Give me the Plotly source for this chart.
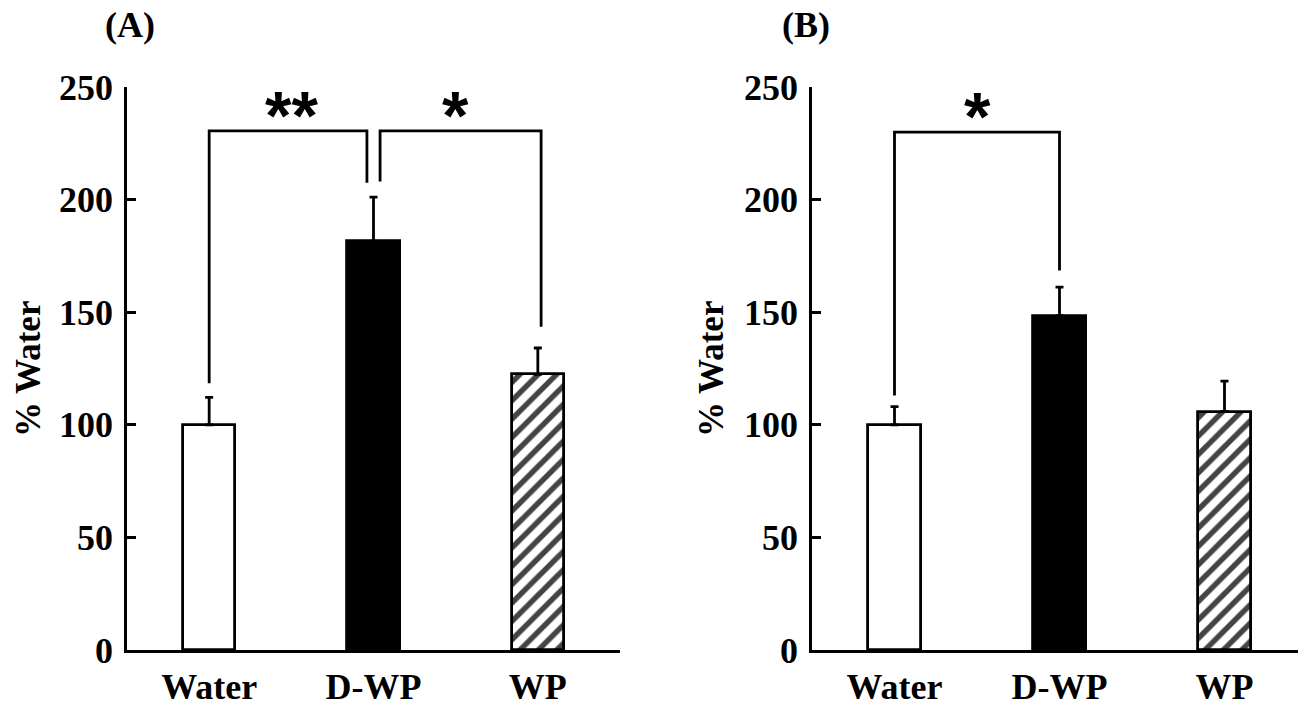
import plotly.graph_objects as go

# ---------------- data ----------------
categories = ["Water", "D-WP", "WP"]
y_ticks = [0, 50, 100, 150, 200, 250]

a_means = [100.0, 181.5, 122.4]
a_errors = [12.2, 19.6, 11.7]

b_means = [100.0, 148.5, 105.9]
b_errors = [8.1, 12.6, 13.5]

# significance brackets: (left index, right index, top value, left leg bottom, right leg bottom, label)
a_brackets = [(0, 1, 230.5, 118.5, 207.5, "**"),
              (1, 2, 230.5, 208.0, 143.5, "*")]
b_brackets = [(0, 1, 230.0, 113.0, 168.5, "*")]

panel_labels = ["(A)", "(B)"]
y_title = "% Water"

# ---------------- style / layout helpers ----------------
FONT = "Liberation Serif"
bar_colors = ["white", "black", "white"]
bar_patterns = ["", "", "/"]
LW = 2.8

OFF = 8            # browser default body margin
W, H = 1306 - OFF, 702 - OFF


def px(sx):
    return (sx - OFF) / W


def py(sy):
    return 1 - (sy - OFF) / H


fig = go.Figure()

panels = [
    dict(means=a_means, errs=a_errors, brackets=a_brackets, xa="x", ya="y",
         xdom=[px(127), px(620)], xrange=[-0.5, 2.5], label=panel_labels[0],
         lab_x=px(130), title_x=px(28)),
    dict(means=b_means, errs=b_errors, brackets=b_brackets, xa="x2", ya="y2",
         xdom=[px(812), 1.0], xrange=[-0.5, -0.5 + (OFF + W - 812) / 165.0],
         label=panel_labels[1], lab_x=px(806), title_x=px(711)),
]

ydom = [py(650), py(87)]
xpos = list(range(len(categories)))

for p in panels:
    fig.add_trace(go.Bar(
        x=xpos, y=p["means"], width=0.32,
        marker=dict(color=bar_colors, line=dict(color="black", width=LW),
                    pattern=dict(shape=bar_patterns, fgcolor="black", fgopacity=1,
                                 size=13, solidity=0.42)),
        error_y=dict(type="data", array=p["errs"], arrayminus=[0] * len(p["errs"]),
                     symmetric=False, color="black", thickness=LW, width=4),
        xaxis=p["xa"], yaxis=p["ya"], showlegend=False, hoverinfo="skip",
    ))
    for (i, j, top, lb, rb, lab) in p["brackets"]:
        xl = i + (0.04 if i == 1 else 0.0)
        xr = j - (0.04 if j == 1 and i == 0 and len(p["brackets"]) > 1 else 0.0)
        if j == 2:
            xr = j + 0.02
        fig.add_trace(go.Scatter(
            x=[xl, xl, xr, xr], y=[lb, top, top, rb], mode="lines",
            line=dict(color="black", width=LW), xaxis=p["xa"], yaxis=p["ya"],
            showlegend=False, hoverinfo="skip",
        ))
        fig.add_annotation(x=(i + j) / 2, y=top - 10.5, text=lab, xref=p["xa"], yref=p["ya"],
                           showarrow=False, yanchor="bottom",
                           font=dict(family="Liberation Sans", size=68, color="black",
                                     weight="bold"))
    fig.add_annotation(x=p["lab_x"], y=py(25), xref="paper", yref="paper",
                       text=p["label"], showarrow=False, xanchor="center", yanchor="middle",
                       font=dict(family=FONT, size=36, color="black", weight="bold"))
    fig.add_annotation(x=p["title_x"], y=py(369), xref="paper", yref="paper",
                       text=y_title, textangle=-90, showarrow=False,
                       xanchor="center", yanchor="middle",
                       font=dict(family=FONT, size=35, color="black", weight="bold"))

axis_common = dict(showgrid=False, zeroline=False, showline=True, linecolor="black",
                   linewidth=LW, automargin=False)
for k, p in enumerate(panels):
    sfx = "" if k == 0 else str(k + 1)
    fig.layout["xaxis" + sfx] = dict(
        axis_common, domain=p["xdom"], range=p["xrange"], tickvals=xpos,
        ticktext=categories, ticks="", anchor="y" + sfx, ticklabelstandoff=3,
        tickfont=dict(family=FONT, size=36, color="black", weight="bold"))
    fig.layout["yaxis" + sfx] = dict(
        axis_common, domain=ydom, range=[0, 250], tickvals=y_ticks, ticks="inside",
        ticklen=9, tickwidth=LW, tickcolor="black", anchor="x" + sfx,
        ticklabelstandoff=4,
        tickfont=dict(family=FONT, size=36, color="black", weight="bold"))

fig.update_layout(width=W, height=H, margin=dict(l=0, r=0, t=0, b=0),
                  paper_bgcolor="white", plot_bgcolor="white", bargap=0)

fig.write_html("out.html")
